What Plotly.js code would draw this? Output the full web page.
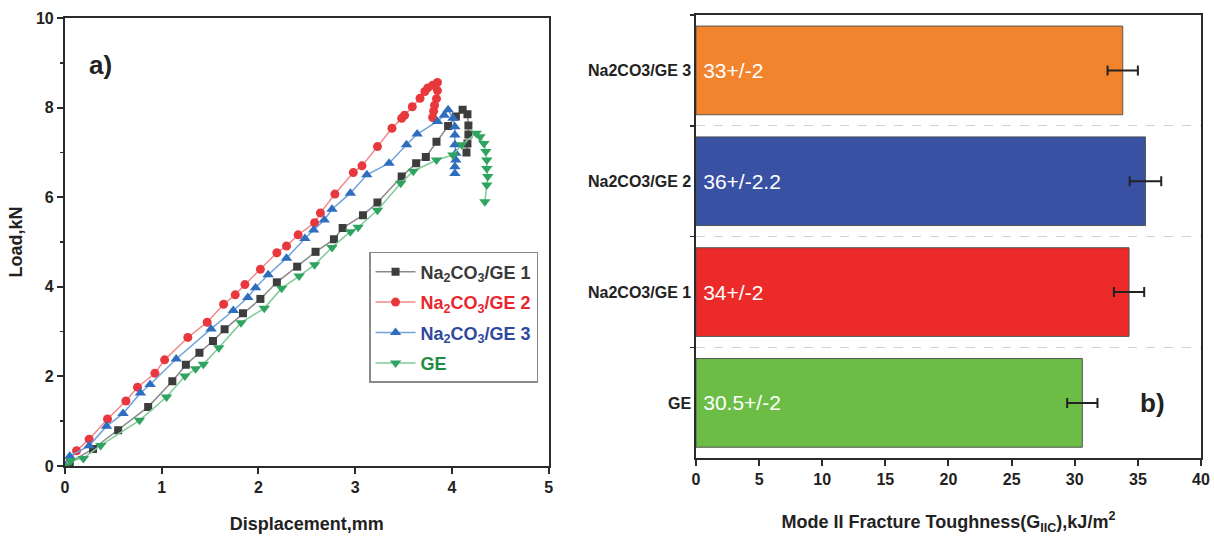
<!DOCTYPE html>
<html>
<head>
<meta charset="utf-8">
<script src="https://cdn.plot.ly/plotly-3.0.1.min.js"></script>
<style>
html,body{margin:0;padding:0;background:#fff;}
#chart{width:1214px;height:539px;}
</style>
</head>
<body>
<div id="chart"></div>
<script>
// ---- Panel a) Load vs displacement ----
const ge1X = [0, 0.05, 0.29, 0.55, 0.86, 1.11, 1.25, 1.39, 1.53, 1.65, 1.84, 2.02, 2.19, 2.40, 2.59, 2.78, 2.87, 3.08, 3.23, 3.48, 3.63, 3.73, 3.84, 3.96, 4.04, 4.11, 4.16, 4.17, 4.17, 4.16, 4.15];
const ge1Y = [0, 0.08, 0.38, 0.80, 1.32, 1.89, 2.26, 2.53, 2.79, 3.05, 3.41, 3.73, 4.10, 4.45, 4.78, 5.06, 5.31, 5.60, 5.88, 6.46, 6.76, 6.90, 7.24, 7.59, 7.80, 7.95, 7.85, 7.60, 7.40, 7.20, 7.00];

const ge2X = [0, 0.12, 0.25, 0.44, 0.63, 0.75, 0.93, 1.03, 1.27, 1.47, 1.64, 1.76, 1.86, 2.02, 2.19, 2.29, 2.41, 2.58, 2.64, 2.79, 2.98, 3.07, 3.23, 3.38, 3.48, 3.51, 3.59, 3.67, 3.72, 3.75, 3.80, 3.85, 3.85, 3.84, 3.82, 3.81, 3.80];
const ge2Y = [0, 0.34, 0.60, 1.05, 1.45, 1.76, 2.07, 2.37, 2.87, 3.21, 3.61, 3.82, 4.05, 4.39, 4.76, 4.91, 5.16, 5.43, 5.65, 6.07, 6.55, 6.70, 7.13, 7.54, 7.76, 7.83, 8.02, 8.21, 8.36, 8.44, 8.50, 8.56, 8.38, 8.20, 8.05, 7.92, 7.78];

const ge3X = [0, 0.05, 0.25, 0.43, 0.60, 0.78, 0.88, 1.15, 1.51, 1.74, 1.89, 1.97, 2.10, 2.29, 2.48, 2.57, 2.68, 2.76, 2.95, 3.12, 3.35, 3.53, 3.64, 3.85, 3.92, 3.96, 4.01, 4.03, 4.03, 4.03, 4.04, 4.04, 4.03, 4.03];
const ge3Y = [0, 0.22, 0.45, 0.89, 1.17, 1.63, 1.82, 2.39, 3.06, 3.47, 3.76, 3.98, 4.27, 4.64, 5.08, 5.27, 5.49, 5.73, 6.09, 6.50, 6.76, 7.17, 7.41, 7.69, 7.83, 7.95, 7.76, 7.57, 7.39, 7.17, 6.98, 6.83, 6.68, 6.53];

const geX = [0, 0.06, 0.19, 0.37, 0.77, 1.05, 1.24, 1.35, 1.43, 1.59, 1.82, 2.06, 2.24, 2.42, 2.58, 2.76, 2.95, 3.03, 3.23, 3.47, 3.60, 3.84, 4.01, 4.10, 4.25, 4.29, 4.33, 4.35, 4.36, 4.36, 4.37, 4.36, 4.34];
const geY = [0, 0.12, 0.17, 0.46, 1.02, 1.54, 2.01, 2.17, 2.27, 2.64, 3.20, 3.52, 3.97, 4.24, 4.49, 4.88, 5.23, 5.33, 5.71, 6.31, 6.58, 6.83, 6.94, 7.17, 7.43, 7.35, 7.20, 7.02, 6.83, 6.64, 6.46, 6.27, 5.90];

const seriesNames = [
  '<span style="color:#3a3a3a">Na<sub>2</sub>CO<sub>3</sub>/GE 1</span>',
  '<span style="color:#E8262E">Na<sub>2</sub>CO<sub>3</sub>/GE 2</span>',
  '<span style="color:#2E4A9E">Na<sub>2</sub>CO<sub>3</sub>/GE 3</span>',
  '<span style="color:#1F8C45">GE</span>'
];

// ---- Panel b) Mode II fracture toughness ----
const barCats = ['GE', 'Na2CO3/GE 1', 'Na2CO3/GE 2', 'Na2CO3/GE 3'];
const barVals = [30.6, 34.3, 35.6, 33.8];
const barErr = [1.2, 1.2, 1.25, 1.2];
const barLabels = ['30.5+/-2', '34+/-2', '36+/-2.2', '33+/-2'];
const barColors = ['#6BBD45', '#EC2A2A', '#3851A3', '#F2842E'];

const xTicksA = [0, 1, 2, 3, 4, 5];
const yTicksA = [0, 2, 4, 6, 8, 10];
const xTicksB = [0, 5, 10, 15, 20, 25, 30, 35, 40];

const FONT = 'Liberation Sans, Arial, sans-serif';
const bold = v => '<b>' + v + '</b>';

const traces = [
  {x: ge1X, y: ge1Y, name: seriesNames[0], legendgroup: 'g1', type: 'scatter', mode: 'lines+markers',
   line: {color: '#8a8a8a', width: 1.5}, marker: {symbol: 'square', size: 8, color: '#3d3d3d'}, xaxis: 'x', yaxis: 'y'},
  {x: ge2X, y: ge2Y, name: seriesNames[1], legendgroup: 'g2', type: 'scatter', mode: 'lines+markers',
   line: {color: '#F28A8A', width: 1.5}, marker: {symbol: 'circle', size: 9, color: '#E8383D'}, xaxis: 'x', yaxis: 'y'},
  {x: ge3X, y: ge3Y, name: seriesNames[2], legendgroup: 'g3', type: 'scatter', mode: 'lines+markers',
   line: {color: '#6FA3DD', width: 1.5}, marker: {symbol: 'triangle-up', size: 10, color: '#2F6DBF'}, xaxis: 'x', yaxis: 'y'},
  {x: geX, y: geY, name: seriesNames[3], legendgroup: 'g4', type: 'scatter', mode: 'lines+markers',
   line: {color: '#7FCB98', width: 1.5}, marker: {symbol: 'triangle-down', size: 10, color: '#2FA461'}, xaxis: 'x', yaxis: 'y'},
  {x: barVals, y: barCats, type: 'bar', orientation: 'h', showlegend: false,
   width: 0.8,
   marker: {color: barColors, line: {color: '#555', width: 1}},
   error_x: {type: 'data', array: barErr, color: '#222', thickness: 2, width: 5},
   text: barLabels.map(t => '\u2009' + t), textposition: 'inside', insidetextanchor: 'start', constraintext: 'none',
   textfont: {color: '#ffffff', size: 21, family: FONT},
   cliponaxis: false,
   xaxis: 'x2', yaxis: 'y2'}
];

const axisLine = {showline: true, linecolor: '#2b2b2b', linewidth: 2, mirror: true, zeroline: false, showgrid: false};

const layout = {
  width: 1214, height: 539,
  margin: {l: 0, r: 0, t: 0, b: 0},
  paper_bgcolor: '#fff', plot_bgcolor: '#fff',
  font: {family: FONT, color: '#222'},
  showlegend: true,
  legend: {x: 0.304, y: 0.5325, xanchor: 'left', yanchor: 'top',
    bgcolor: '#fff', bordercolor: '#8a8a8a', borderwidth: 1.5,
    font: {size: 18, family: FONT, weight: 'bold'}, tracegroupgap: 4, itemwidth: 40},
  xaxis: Object.assign({}, axisLine, {
    domain: [0.0535, 0.452], range: [0, 5], tickvals: xTicksA, ticktext: xTicksA.map(bold),
    ticks: 'outside', ticklen: 6, tickwidth: 2, tickcolor: '#2b2b2b',
    tickfont: {size: 16, color: '#222'},
    title: {text: '<b>Displacement,mm</b>', font: {size: 18, color: '#222'}, standoff: 22},
    anchor: 'y'}),
  yaxis: Object.assign({}, axisLine, {
    domain: [0.1354, 0.9666], range: [0, 10], tickvals: yTicksA, ticktext: yTicksA.map(bold),
    ticks: 'outside', ticklen: 6, tickwidth: 2, tickcolor: '#2b2b2b',
    minor: {dtick: 1, ticks: 'outside', ticklen: 3, tickwidth: 1.5, tickcolor: '#2b2b2b'},
    tickfont: {size: 16, color: '#222'},
    title: {text: '<b>Load,kN</b>', font: {size: 18, color: '#222'}, standoff: 9},
    anchor: 'x'}),
  xaxis2: Object.assign({}, axisLine, {
    domain: [0.5733, 0.9893], range: [0, 40], tickvals: xTicksB, ticktext: xTicksB.map(bold),
    linewidth: 1.6,
    ticks: 'outside', ticklen: 6, tickwidth: 2, tickcolor: '#2b2b2b',
    tickfont: {size: 16, color: '#222'},
    title: {text: '<b>Mode II Fracture Toughness(G<sub>IIC</sub>),kJ/m<sup>2</sup></b>', font: {size: 18, color: '#222'}, standoff: 28},
    anchor: 'y2'}),
  yaxis2: Object.assign({}, axisLine, {
    domain: [0.1497, 0.9722], range: [-0.5, 3.5], type: 'category',
    tickvals: barCats, ticktext: barCats.map(bold),
    linewidth: 1.6,
    tickson: 'boundaries', ticks: 'outside', ticklen: 4, tickwidth: 1.5, tickcolor: '#2b2b2b',
    showgrid: true, gridcolor: '#d0d0d0', gridwidth: 1, griddash: 'dash',
    tickfont: {size: 16, color: '#222'},
    anchor: 'x2'}),
  annotations: [
    {xref: 'paper', yref: 'paper', x: 87 / 1214, y: 1 - 65 / 539, xanchor: 'left', yanchor: 'middle',
     text: '<b>a)</b>', showarrow: false, font: {size: 26, color: '#222'}},
    {xref: 'paper', yref: 'paper', x: 1138 / 1214, y: 1 - 403 / 539, xanchor: 'left', yanchor: 'middle',
     text: '<b>b)</b>', showarrow: false, font: {size: 26, color: '#222'}}
  ]
};

Plotly.newPlot('chart', traces, layout, {displayModeBar: false, staticPlot: true});
</script>
</body>
</html>
